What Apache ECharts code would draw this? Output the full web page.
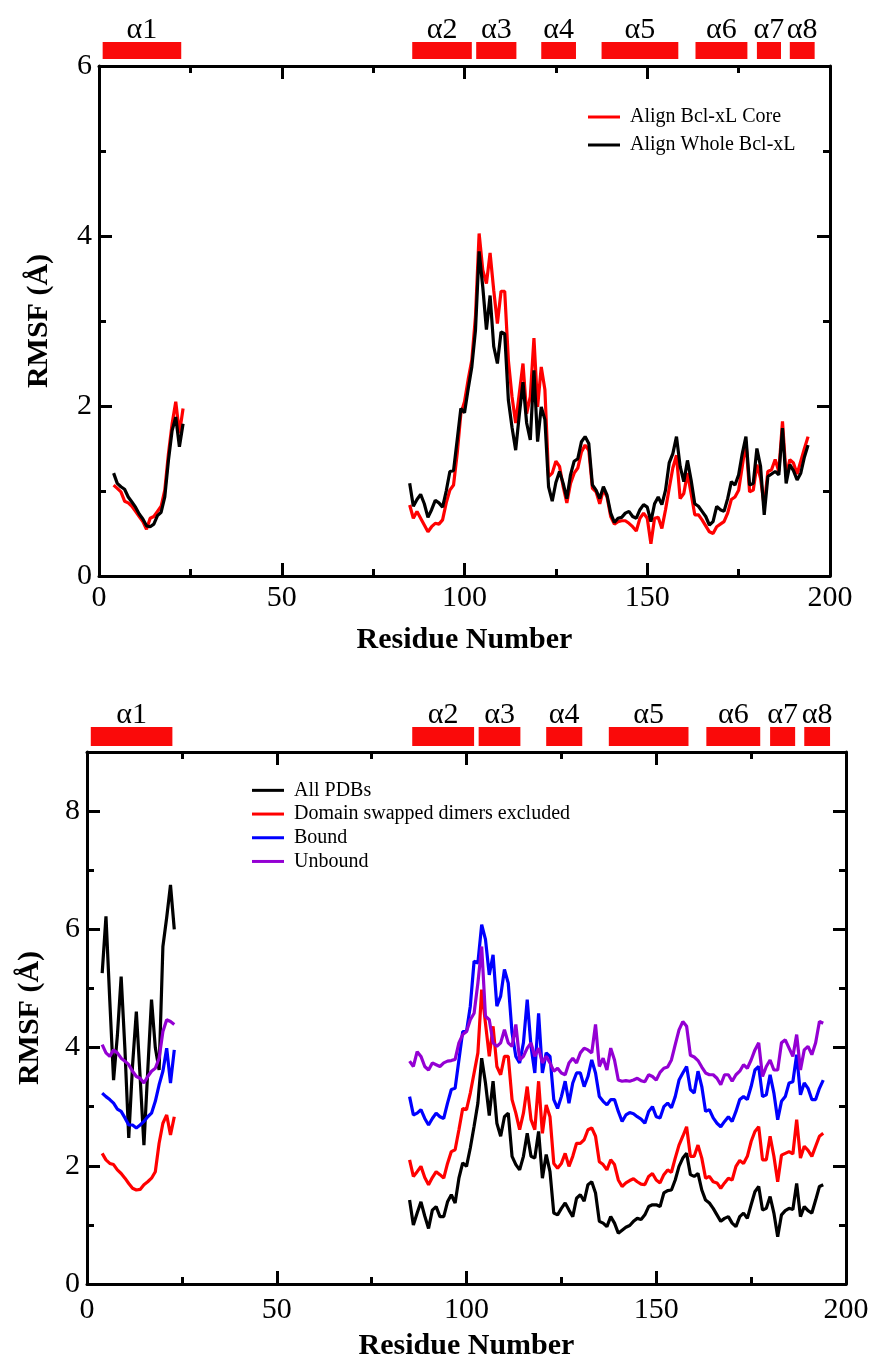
<!DOCTYPE html>
<html>
<head>
<meta charset="utf-8">
<script src="https://cdn.jsdelivr.net/npm/echarts@6/dist/echarts.min.js"></script>
<style>
html,body{margin:0;padding:0;background:#fff;}
#chart{width:873px;height:1361px;}
</style>
</head>
<body>
<div id="chart"></div>
<script>
// ---------- DATA ----------
const seg1Start = 4;    // first residue of the N-terminal segment
const seg2Start = 85;   // first residue of the C-terminal segment

const helixNames = ['α1','α2','α3','α4','α5','α6','α7','α8'];
const helixStart = [1, 85.7, 103.2, 121, 137.5, 163.2, 180, 189];
const helixEnd   = [22.5, 102, 114.2, 130.5, 158.5, 177.4, 186.6, 195.8];

// Top panel
const coreSeg1  = [1.07,1.03,0.99,0.88,0.86,0.82,0.76,0.70,0.64,0.55,0.68,0.70,0.76,0.82,1.01,1.44,1.79,2.05,1.68,1.97];
const wholeSeg1 = [1.21,1.09,1.05,1.02,0.93,0.87,0.81,0.73,0.67,0.59,0.58,0.61,0.71,0.75,0.93,1.36,1.71,1.87,1.52,1.79];
const coreSeg2  = [0.835,0.68,0.76,0.68,0.60,0.52,0.58,0.62,0.61,0.66,0.86,1.01,1.07,1.44,1.91,2.05,2.31,2.54,3.05,4.03,
  3.60,3.44,3.80,3.36,2.97,3.35,3.35,2.54,2.11,1.80,2.15,2.50,1.91,2.11,2.80,1.99,2.46,2.19,1.17,1.21,1.35,1.29,1.05,0.86,
  1.09,1.21,1.27,1.46,1.54,1.48,1.03,0.99,0.85,1.02,0.93,0.70,0.61,0.64,0.65,0.65,0.62,0.58,0.53,0.68,0.74,0.68,0.38,0.68,
  0.69,0.56,0.78,1.03,1.27,1.42,0.91,0.97,1.21,0.97,0.72,0.72,0.66,0.59,0.52,0.50,0.58,0.61,0.64,0.74,0.90,0.93,1.01,1.29,
  1.58,0.99,1.01,1.31,1.15,0.82,1.23,1.25,1.37,1.23,1.82,1.17,1.37,1.33,1.20,1.35,1.50,1.64];
const wholeSeg2 = [1.09,0.82,0.90,0.96,0.85,0.69,0.78,0.89,0.86,0.81,1.00,1.23,1.24,1.60,1.97,1.92,2.20,2.46,2.89,3.82,
  3.40,2.90,3.30,2.70,2.50,2.87,2.85,2.07,1.75,1.48,1.90,2.28,1.80,1.60,2.42,1.58,1.99,1.84,1.05,0.88,1.10,1.23,1.09,0.91,
  1.19,1.35,1.38,1.58,1.64,1.56,1.07,1.01,0.91,1.05,0.95,0.74,0.63,0.68,0.69,0.74,0.76,0.70,0.68,0.78,0.84,0.81,0.64,0.85,
  0.93,0.84,1.01,1.33,1.44,1.64,1.29,1.11,1.36,1.13,0.85,0.82,0.76,0.70,0.60,0.64,0.82,0.78,0.76,0.91,1.11,1.07,1.19,1.44,
  1.64,1.07,1.09,1.50,1.29,0.72,1.17,1.20,1.23,1.19,1.74,1.09,1.31,1.24,1.13,1.21,1.40,1.54];

// Bottom panel
const allSeg1     = [5.26,6.22,4.80,3.45,4.20,5.20,3.96,2.47,3.70,4.61,3.50,2.35,3.60,4.81,4.00,3.62,5.71,6.20,6.75,6.00];
const domSeg1     = [2.21,2.10,2.04,2.02,1.93,1.87,1.79,1.70,1.62,1.59,1.60,1.68,1.73,1.79,1.90,2.38,2.72,2.86,2.52,2.83];
const boundSeg1   = [3.23,3.17,3.12,3.06,2.96,2.92,2.81,2.69,2.69,2.64,2.69,2.75,2.83,2.89,3.09,3.37,3.60,3.99,3.40,3.96];
const unboundSeg1 = [4.05,3.91,3.85,3.96,3.91,3.82,3.77,3.71,3.60,3.51,3.48,3.40,3.51,3.60,3.65,3.82,4.27,4.47,4.44,4.39];

const allSeg2 = [1.42,1.00,1.20,1.39,1.15,0.94,1.25,1.31,1.14,1.14,1.39,1.51,1.37,1.79,2.05,1.99,2.30,2.67,3.06,3.82,
  3.40,2.85,3.43,2.72,2.50,2.83,2.89,2.16,2.02,1.93,2.16,2.55,2.16,2.13,2.58,1.79,2.19,1.90,1.20,1.17,1.28,1.37,1.25,1.14,1.45,
  1.51,1.40,1.68,1.73,1.54,1.06,1.03,0.97,1.14,1.03,0.86,0.91,0.96,0.99,1.06,1.11,1.09,1.17,1.31,1.34,1.34,1.31,1.54,1.58,1.59,
  1.76,1.99,2.13,2.21,1.85,1.82,1.87,1.59,1.42,1.37,1.28,1.17,1.06,1.11,1.14,1.03,0.97,1.14,1.20,1.11,1.34,1.56,1.65,1.25,1.28,
  1.48,1.20,0.80,1.17,1.24,1.28,1.26,1.70,1.14,1.31,1.24,1.20,1.42,1.65,1.68];
const domSeg2 = [2.10,1.82,1.90,1.99,1.80,1.68,1.80,1.90,1.85,1.79,2.04,2.24,2.27,2.61,2.97,2.95,3.23,3.57,3.91,4.98,
  4.41,3.85,4.36,3.68,3.54,3.85,3.85,3.12,2.89,2.61,2.89,3.34,2.78,2.61,3.43,2.55,3.03,2.83,2.04,1.96,2.04,2.21,1.99,2.16,2.38,
  2.38,2.44,2.61,2.64,2.50,2.07,2.02,1.93,2.10,2.02,1.76,1.65,1.71,1.75,1.78,1.73,1.69,1.68,1.82,1.87,1.76,1.71,1.85,1.93,1.89,
  2.13,2.35,2.50,2.66,2.16,2.16,2.35,2.13,1.79,1.82,1.73,1.71,1.62,1.71,1.79,1.76,1.99,2.09,2.04,2.16,2.41,2.58,2.66,2.10,2.10,
  2.50,2.16,1.73,2.18,2.21,2.24,2.20,2.78,2.13,2.33,2.26,2.16,2.33,2.50,2.55];
const boundSeg2 = [3.17,2.86,2.89,2.95,2.80,2.69,2.80,2.89,2.83,2.80,3.06,3.29,3.31,3.79,4.27,4.27,4.70,5.46,5.43,6.08,
  5.83,5.23,5.57,4.70,4.87,5.32,5.09,4.25,3.85,3.74,4.08,4.81,4.02,3.57,4.58,3.57,3.91,3.85,3.12,2.97,3.17,3.43,3.06,3.40,3.57,
  3.57,3.34,3.51,3.79,3.57,3.17,3.09,3.03,3.12,3.12,2.92,2.75,2.86,2.90,2.88,2.83,2.79,2.72,2.92,3.00,2.83,2.81,3.00,3.06,2.98,
  3.17,3.45,3.57,3.68,3.29,3.23,3.60,3.34,2.92,2.95,2.81,2.72,2.66,2.75,2.83,2.75,2.92,3.12,3.17,3.12,3.34,3.62,3.68,3.17,3.20,
  3.54,3.23,2.78,3.09,3.17,3.40,3.42,3.88,3.20,3.40,3.31,3.12,3.12,3.31,3.45];
const unboundSeg2 = [3.77,3.68,3.93,3.85,3.68,3.62,3.74,3.71,3.68,3.74,3.77,3.78,3.80,4.08,4.22,4.27,4.47,4.58,5.09,5.71,
  4.53,4.47,4.08,4.02,4.08,4.30,4.08,4.02,4.39,3.79,3.85,3.99,4.08,3.85,3.99,3.74,3.85,3.74,3.60,3.65,3.57,3.54,3.74,3.82,3.74,
  3.91,3.99,3.96,3.91,4.39,3.68,3.82,3.62,3.99,3.79,3.45,3.43,3.44,3.43,3.45,3.48,3.44,3.42,3.54,3.51,3.45,3.58,3.65,3.67,3.79,
  4.05,4.30,4.44,4.36,3.87,3.84,3.78,3.67,3.57,3.54,3.54,3.48,3.37,3.54,3.54,3.43,3.54,3.60,3.71,3.65,3.79,3.96,4.08,3.51,3.68,
  3.79,3.62,3.62,4.08,4.13,3.99,3.85,4.22,3.62,3.96,4.02,3.88,4.08,4.44,4.41];

const topNames = ['Align Bcl-xL Core', 'Align Whole Bcl-xL'];
const botNames = ['All PDBs', 'Domain swapped dimers excluded', 'Bound', 'Unbound'];

// ---------- BUILD ----------
function seg(start, vals) { return vals.map((v, i) => [start + i, v]); }
function twoSeg(a, b) { return seg(seg1Start, a).concat([[54, '-']], seg(seg2Start, b)); }

const SERIF = '"Liberation Serif", "DejaVu Serif", serif';
const helixData = helixNames.map((n, i) => [helixStart[i], helixEnd[i], i]);

function boxAxes(gridIndex, min, max, interval, labelShow, position, margin) {
  return {
    type: 'value', gridIndex, min, max, interval, position,
    axisLine: { show: true, onZero: false, lineStyle: { color: '#000', width: 3 } },
    axisTick: { show: true, inside: true, length: 13, lineStyle: { color: '#000', width: 3 } },
    minorTick: { show: true, splitNumber: 2, length: 7, lineStyle: { color: '#000', width: 3 } },
    splitLine: { show: false }, minorSplitLine: { show: false },
    axisLabel: { show: labelShow, color: '#000', fontSize: 30, fontFamily: SERIF, margin,
                 showMaxLabel: labelShow ? (max % interval === 0) : false,
                 formatter: v => String(v) }
  };
}

function helixSeries(xi, yi) {
  return {
    type: 'custom', xAxisIndex: xi, yAxisIndex: yi, clip: false, silent: true,
    data: helixData, encode: { x: [0, 1] },
    renderItem: function (params, api) {
      const p0 = api.coord([api.value(0), 0]);
      const p1 = api.coord([api.value(1), 1]);
      return {
        type: 'group',
        children: [
          { type: 'rect', shape: { x: p0[0], y: p1[1], width: p1[0] - p0[0], height: p0[1] - p1[1] },
            style: { fill: '#fa0a0a' } },
          { type: 'text', style: { text: helixNames[params.dataIndex], x: (p0[0] + p1[0]) / 2, y: p1[1] + 3,
            align: 'center', verticalAlign: 'bottom', fontSize: 30, fontFamily: SERIF, fill: '#000' } }
        ]
      };
    }
  };
}

function line(name, color, data, xi, yi) {
  return { type: 'line', name, data, xAxisIndex: xi, yAxisIndex: yi, showSymbol: false, symbol: 'none',
           connectNulls: false, lineStyle: { color, width: 3.2 }, itemStyle: { color }, animation: false };
}

const hiddenAxis = (gridIndex, min, max) => ({ type: 'value', gridIndex, min, max, show: false });

const nameStyle = { color: '#000', fontSize: 30, fontWeight: 'bold', fontFamily: SERIF };

const xAxes = [
  Object.assign(boxAxes(0, 0, 200, 50, true, 'bottom', 7), { name: 'Residue Number', nameLocation: 'middle', nameGap: 49, nameTextStyle: nameStyle }),
  boxAxes(0, 0, 200, 50, false, 'top', 6),
  hiddenAxis(1, 0, 200),
  Object.assign(boxAxes(2, 0, 200, 50, true, 'bottom', 11), { name: 'Residue Number', nameLocation: 'middle', nameGap: 47, nameTextStyle: nameStyle }),
  boxAxes(2, 0, 200, 50, false, 'top', 6),
  hiddenAxis(3, 0, 200)
];
const yAxes = [
  Object.assign(boxAxes(0, 0, 6, 2, true, 'left', 7), { name: 'RMSF (Å)', nameLocation: 'middle', nameGap: 45, nameTextStyle: nameStyle }),
  boxAxes(0, 0, 6, 2, false, 'right', 7),
  hiddenAxis(1, 0, 1),
  Object.assign(boxAxes(2, 0, 9, 2, true, 'left', 7), { name: 'RMSF (Å)', nameLocation: 'middle', nameGap: 42, nameTextStyle: nameStyle }),
  boxAxes(2, 0, 9, 2, false, 'right', 7),
  hiddenAxis(3, 0, 1)
];

const legendBase = {
  orient: 'vertical', icon: 'rect', itemWidth: 32, itemHeight: 3, selectedMode: false,
  textStyle: { color: '#000', fontSize: 20, fontFamily: SERIF, padding: [0, 0, 0, 5] }
};

const option = {
  animation: false,
  backgroundColor: '#fff',
  grid: [
    { left: 99, right: 43, top: 66, height: 510, outerBoundsMode: 'none' },
    { left: 99, right: 43, top: 42, height: 17, outerBoundsMode: 'none' },
    { left: 87, right: 27, top: 752, height: 532, outerBoundsMode: 'none' },
    { left: 87, right: 27, top: 727, height: 19, outerBoundsMode: 'none' }
  ],
  xAxis: xAxes,
  yAxis: yAxes,
  legend: [
    Object.assign({}, legendBase, { data: topNames, left: 583, top: 100, itemGap: 4,
      textStyle: Object.assign({}, legendBase.textStyle, { lineHeight: 24 }) }),
    Object.assign({}, legendBase, { data: botNames, left: 247, top: 775, itemGap: 3,
      textStyle: Object.assign({}, legendBase.textStyle, { lineHeight: 20.7 }) })
  ],
  series: [
    line(topNames[0], '#ff0000', twoSeg(coreSeg1, coreSeg2), 0, 0),
    line(topNames[1], '#000000', twoSeg(wholeSeg1, wholeSeg2), 0, 0),
    helixSeries(2, 2),
    line(botNames[0], '#000000', twoSeg(allSeg1, allSeg2), 3, 3),
    line(botNames[1], '#ff0000', twoSeg(domSeg1, domSeg2), 3, 3),
    line(botNames[2], '#0000ff', twoSeg(boundSeg1, boundSeg2), 3, 3),
    line(botNames[3], '#9400d3', twoSeg(unboundSeg1, unboundSeg2), 3, 3),
    helixSeries(5, 5)
  ]
};

const chart = echarts.init(document.getElementById('chart'), null, { renderer: 'canvas' });
chart.setOption(option);
</script>
</body>
</html>
